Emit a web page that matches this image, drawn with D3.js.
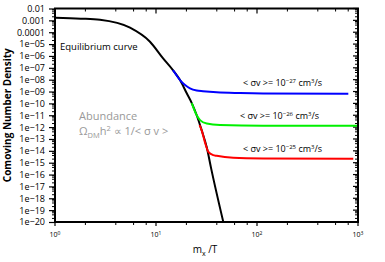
<!DOCTYPE html>
<html>
<head>
<meta charset="utf-8">
<script src="https://d3js.org/d3.v7.min.js"></script>
<style>
  body { margin: 0; background: #fff; }
  text { font-family: "Open Sans", sans-serif; }
</style>
</head>
<body>
<div id="my_dataviz"></div>
<script>

// y tick values and their labels
var yTicks = [1e-2,1e-3,1e-4,1e-5,1e-6,1e-7,1e-8,1e-9,1e-10,1e-11,1e-12,1e-13,1e-14,1e-15,1e-16,1e-17,1e-18,1e-19,1e-20]
var yTickLabels = ["0.01","0.001","0.0001","1e\u221205","1e\u221206","1e\u221207","1e\u221208","1e\u221209","1e\u221210",
  "1e\u221211","1e\u221212","1e\u221213","1e\u221214","1e\u221215","1e\u221216","1e\u221217","1e\u221218","1e\u221219","1e\u221220"]

// x ticks (powers of ten) and exponents shown as superscripts
var xTicks = [1, 10, 100, 1000]
var xTickExp = ["0", "1", "2", "3"]

// equilibrium curve
var eqX = [1, 1.8, 2.79, 5.53, 8.72, 11.7, 14.7, 17.3, 20.1, 22.6, 25.3, 28.3, 31.8, 35.1, 46.4]
var eqY = [1.66e-3, 1.4e-3, 1.12e-3, 2.4e-4, 1.58e-5, 6.6e-7, 6.5e-8, 9.3e-9, 7.4e-10, 1.07e-10, 1.0e-11, 5.6e-13, 2.0e-14, 3.5e-16, 1e-20]

// freeze-out curves
var blueX = [14.7, 17.3, 19.4, 21.7, 25.3, 29.2, 39.9, 67.9, 115, 802]
var blueY = [6.5e-8, 9.3e-9, 3.5e-9, 1.86e-9, 1.2e-9, 1.05e-9, 8.5e-10, 7.4e-10, 6.9e-10, 6.6e-10]

var greenX = [22.6, 25.3, 27.3, 31.8, 43.0, 115, 1000]
var greenY = [1.07e-10, 1.0e-11, 3.9e-12, 2.0e-12, 1.48e-12, 1.29e-12, 1.29e-12]

var redX = [27.0, 28.3, 30.4, 33.0, 36.9, 39.9, 58.2, 115, 898]
var redY = [1.5e-12, 5.6e-13, 6e-14, 8.3e-15, 4.4e-15, 3.8e-15, 2.6e-15, 2.3e-15, 2.14e-15]

var curveNames = ["eq", "blue", "green", "red"]
var curveColors = ["#000000", "#0000ff", "#00f000", "#ff0000"]

var sigmaExp = ["\u221227", "\u221226", "\u221225"]

var W = 385, H = 262
var mLeft = 55, mRight = 358, mTop = 8.5, mBottom = 222

var svg = d3.select("#my_dataviz")
  .append("svg")
    .attr("width", W)
    .attr("height", H)

var x = d3.scaleLog().domain([1, 1000]).range([mLeft, mRight])
var y = d3.scaleLog().domain([1e-20, 1e-2]).range([mBottom, mTop])

// minor ticks at 2,4,6,8 of each decade
var xMinor = [], yMinor = []
xTicks.slice(0, -1).forEach(function(d){ [2,4,6,8].forEach(function(m){ xMinor.push(d*m) }) })
yTicks.slice(1).forEach(function(d){ [2,4,6,8].forEach(function(m){ yMinor.push(d*m) }) })

// left axis (labels)
var gl = svg.append("g")
  .attr("transform", "translate(" + mLeft + ",0)")
  .call(d3.axisLeft(y).tickValues(yTicks).tickSize(6).tickPadding(4)
    .tickFormat(function(d, i){ return yTickLabels[i] }))
gl.select(".domain").remove()
gl.selectAll("line").attr("stroke-width", 1.2)
gl.selectAll("text").style("font-size", "9px").attr("fill", "#000")

svg.append("g").selectAll("line")
  .data(yMinor).enter().append("line")
    .attr("x1", mLeft - 3).attr("x2", mLeft)
    .attr("y1", function(d){ return y(d) }).attr("y2", function(d){ return y(d) })
    .attr("stroke", "#000").attr("stroke-width", 1)

// right axis ticks (inward)
svg.append("g").selectAll("line")
  .data(yTicks).enter().append("line")
    .attr("x1", mRight - 5).attr("x2", mRight)
    .attr("y1", function(d){ return y(d) }).attr("y2", function(d){ return y(d) })
    .attr("stroke", "#000").attr("stroke-width", 1.2)
svg.append("g").selectAll("line")
  .data(yMinor).enter().append("line")
    .attr("x1", mRight - 3).attr("x2", mRight)
    .attr("y1", function(d){ return y(d) }).attr("y2", function(d){ return y(d) })
    .attr("stroke", "#000").attr("stroke-width", 1)

// bottom axis ticks (outward) and top ticks (inward)
svg.append("g").selectAll("line")
  .data(xTicks).enter().append("line")
    .attr("x1", function(d){ return x(d) }).attr("x2", function(d){ return x(d) })
    .attr("y1", mBottom).attr("y2", mBottom + 4)
    .attr("stroke", "#000").attr("stroke-width", 1.2)
svg.append("g").selectAll("line")
  .data(xMinor).enter().append("line")
    .attr("x1", function(d){ return x(d) }).attr("x2", function(d){ return x(d) })
    .attr("y1", mBottom).attr("y2", mBottom + 3)
    .attr("stroke", "#000").attr("stroke-width", 1)
svg.append("g").selectAll("line")
  .data(xTicks).enter().append("line")
    .attr("x1", function(d){ return x(d) }).attr("x2", function(d){ return x(d) })
    .attr("y1", mTop).attr("y2", mTop + 5)
    .attr("stroke", "#000").attr("stroke-width", 1.2)
svg.append("g").selectAll("line")
  .data(xMinor).enter().append("line")
    .attr("x1", function(d){ return x(d) }).attr("x2", function(d){ return x(d) })
    .attr("y1", mTop).attr("y2", mTop + 3)
    .attr("stroke", "#000").attr("stroke-width", 1)

// x tick labels 10^n
var xl = svg.append("g").selectAll("text")
  .data(xTicks).enter().append("text")
    .attr("x", function(d){ return x(d) })
    .attr("y", mBottom + 15)
    .attr("text-anchor", "middle")
    .style("font-size", "7px")
xl.append("tspan").text("10")
xl.append("tspan").attr("dy", -2.5).style("font-size", "5px")
  .text(function(d, i){ return xTickExp[i] })

// curves
var clip = svg.append("clipPath").attr("id", "plotclip")
clip.append("rect").attr("x", mLeft).attr("y", mTop).attr("width", mRight - mLeft).attr("height", mBottom - mTop)

var line = d3.line()
  .x(function(d){ return x(d[0]) })
  .y(function(d){ return y(d[1]) })
  .curve(d3.curveMonotoneX)

var series = [
  d3.zip(eqX, eqY),
  d3.zip(blueX, blueY),
  d3.zip(greenX, greenY),
  d3.zip(redX, redY)
]

svg.append("g").attr("clip-path", "url(#plotclip)")
  .selectAll("path")
  .data(series).enter().append("path")
    .attr("class", function(d, i){ return curveNames[i] })
    .attr("d", line)
    .attr("fill", "none")
    .attr("stroke", function(d, i){ return curveColors[i] })
    .attr("stroke-width", 2)

// frame
svg.append("rect")
  .attr("x", mLeft).attr("y", mTop)
  .attr("width", mRight - mLeft).attr("height", mBottom - mTop)
  .attr("fill", "none").attr("stroke", "#000").attr("stroke-width", 2)

// axis titles
svg.append("text")
  .attr("transform", "translate(11," + ((mTop + mBottom) / 2) + ") rotate(-90)")
  .attr("text-anchor", "middle")
  .style("font-size", "10px").style("font-weight", "bold")
  .text("Comoving Number Density")

var xt = svg.append("text")
  .attr("x", 205).attr("y", 253)
  .attr("text-anchor", "middle")
  .style("font-size", "10px")
xt.append("tspan").text("m")
xt.append("tspan").attr("dy", 2.5).style("font-size", "7px").text("x")
xt.append("tspan").attr("dy", -2.5).text(" /T")

// annotations
svg.append("text")
  .attr("x", 60).attr("y", 49.5)
  .style("font-size", "9.5px")
  .text("Equilibrium curve")

var labY = [86, 119, 152]
var labX = [243, 240, 243]
labY.forEach(function(ly, i){
  var t = svg.append("text").attr("x", labX[i]).attr("y", ly).style("font-size", "9px")
  t.append("tspan").text("< \u03c3v >= 10")
  t.append("tspan").attr("dy", -3.5).style("font-size", "6px").text(sigmaExp[i])
  t.append("tspan").attr("dy", 3.5).text(" cm")
  t.append("tspan").attr("dy", -3.5).style("font-size", "6px").text("3")
  t.append("tspan").attr("dy", 3.5).text("/s")
})

svg.append("text")
  .attr("x", 79).attr("y", 120)
  .attr("fill", "#999")
  .style("font-size", "11px")
  .text("Abundance")

var om = svg.append("text")
  .attr("x", 79).attr("y", 135)
  .attr("fill", "#999")
  .style("font-size", "11px")
om.append("tspan").text("\u03a9")
om.append("tspan").attr("dy", 2.5).style("font-size", "7.5px").text("DM")
om.append("tspan").attr("dy", -2.5).text("h")
om.append("tspan").attr("dy", -4).style("font-size", "7.5px").text("2")
om.append("tspan").attr("dy", 4).text(" \u221d 1/< \u03c3 v >")

</script>
</body>
</html>
